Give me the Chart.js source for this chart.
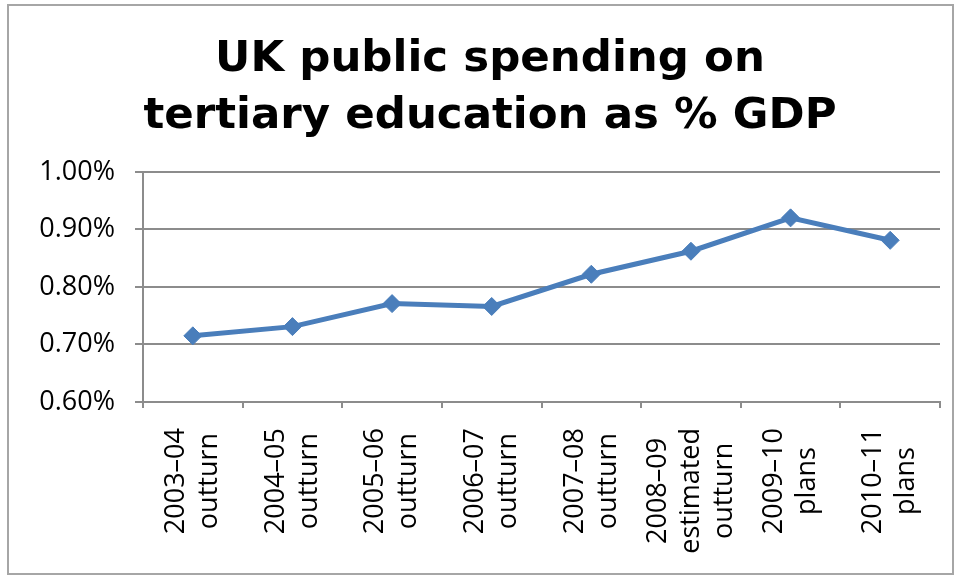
<!DOCTYPE html>
<html>
<head>
<meta charset="utf-8">
<script src="https://cdn.jsdelivr.net/npm/chart.js@4/dist/chart.umd.min.js"></script>
<style>
  html, body { margin: 0; padding: 0; background: #ffffff; }
  #wrap { width: 959px; height: 578px; }
</style>
</head>
<body>
<div id="wrap"><canvas id="chartGdp" width="959" height="578"></canvas></div>
<script>
// values
let years = ["2003–04", "2004–05", "2005–06", "2006–07", "2007–08", "2008–09", "2009–10", "2010–11"];
let stages = [["outturn"], ["outturn"], ["outturn"], ["outturn"], ["outturn"], ["estimated", "outturn"], ["plans"], ["plans"]];
let spendPct = [0.715, 0.731, 0.771, 0.766, 0.822, 0.862, 0.920, 0.881];
let yTicks = [0.60, 0.70, 0.80, 0.90, 1.00];

let labels = years.map(function (y, i) {
    return [y].concat(stages[i]);
});

/* white page + grey frame round the whole thing */
let framePlugin = {
    id: "frame",
    beforeDraw: function (chart) {
        let ctx = chart.ctx;
        ctx.save();
        ctx.fillStyle = "#ffffff";
        ctx.fillRect(0, 0, chart.width, chart.height);
        ctx.strokeStyle = "#a6a6a6";
        ctx.lineWidth = 2;
        ctx.strokeRect(8, 5, chart.width - 14, chart.height - 9);
        ctx.restore();
    }
};

/* x labels: rotated, lines centred on each other (chart.js would right-align them) */
let xLabelPlugin = {
    id: "xLabels",
    afterDraw: function (chart) {
        let scale = chart.scales.x;
        let ctx = chart.ctx;
        let lh = 33;
        ctx.save();
        ctx.font = "27px 'Open Sans'";
        ctx.fillStyle = "#000000";
        ctx.textAlign = "center";
        ctx.textBaseline = "middle";
        labels.forEach(function (lines, i) {
            let x = scale.getPixelForTick(i);
            let top = scale.top + 26;
            let maxW = Math.max.apply(null, lines.map(function (l) { return ctx.measureText(l).width; }));
            ctx.save();
            ctx.translate(x, top);
            ctx.rotate(-Math.PI / 2);
            lines.forEach(function (l, j) {
                ctx.fillText(l, -maxW / 2, (j - (lines.length - 1) / 2) * lh);
            });
            ctx.restore();
        });
        ctx.restore();
    }
};

function drawChart() {

let ctx = document.getElementById("chartGdp").getContext("2d");

let gdpChart = new Chart(ctx, {
    type: "line",
    data: {
        labels: labels,
        datasets: [
            {
                label: "UK public spending on tertiary education as % GDP",
                data: spendPct,
                borderColor: "#4a7ebb",
                backgroundColor: "#4a7ebb",
                borderWidth: 5,
                pointStyle: "rectRot",
                pointRadius: 9,
                pointBorderWidth: 1,
                tension: 0
            }
        ]
    },
    plugins: [framePlugin, xLabelPlugin],
    options: {
        responsive: false,
        animation: false,
        layout: {
            padding: { left: 40, right: 19, top: 0, bottom: 26 }
        },
        plugins: {
            legend: { display: false },
            tooltip: { enabled: false },
            title: {
                display: true,
                text: ["UK public spending on", "tertiary education as % GDP"],
                color: "#000000",
                font: { family: "'DejaVu Sans'", size: 43.5, weight: "bold", lineHeight: 1.32 },
                padding: { top: 31, bottom: 26 }
            }
        },
        scales: {
            x: {
                offset: true,
                afterFit: function (s) {
                    s.paddingLeft = 0;
                    s.paddingRight = 0;
                    s.height = 150;
                },
                grid: {
                    offset: true,
                    drawOnChartArea: false,
                    color: "#8c8c8c",
                    lineWidth: 2,
                    tickLength: 6
                },
                border: { color: "#8c8c8c", width: 2 },
                ticks: {
                    color: "rgba(0,0,0,0)",
                    font: { family: "'Open Sans'", size: 27 },
                    minRotation: 90,
                    maxRotation: 90,
                    autoSkip: false,
                    padding: 20
                }
            },
            y: {
                min: yTicks[0],
                max: yTicks[yTicks.length - 1],
                afterBuildTicks: function (axis) {
                    axis.ticks = yTicks.map(function (v) { return { value: v }; });
                },
                afterFit: function (s) {
                    s.width = 103;
                },
                grid: {
                    color: "#8c8c8c",
                    lineWidth: 2,
                    tickLength: 8
                },
                border: { color: "#8c8c8c", width: 2 },
                ticks: {
                    color: "#000000",
                    font: { family: "'Open Sans'", size: 27 },
                    padding: 20,
                    callback: function (v) { return v.toFixed(2) + "%"; }
                }
            }
        }
    }
});
}

Promise.all([
    document.fonts.load("27px 'Open Sans'"),
    document.fonts.load("bold 44px 'DejaVu Sans'")
]).then(drawChart, drawChart);
</script>
</body>
</html>
